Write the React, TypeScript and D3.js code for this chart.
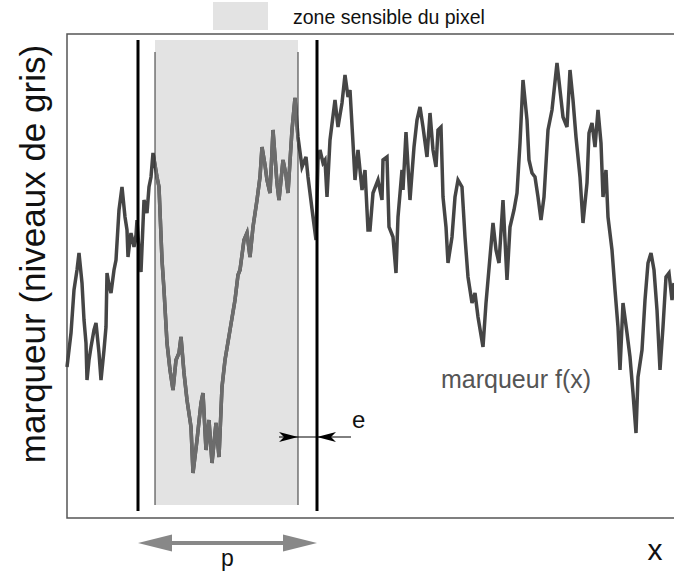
import * as d3 from 'd3';

// signal: position along x (0..607) and grey level (0..484)
const positions = [
  0, 2, 4, 7, 10, 12, 15, 17, 19, 20,
  22, 24, 27, 29, 32, 34, 37, 39, 40, 42,
  44, 47, 49, 52, 55, 58, 60, 61, 63, 64,
  67, 69, 70, 72, 74, 77, 80, 82, 84, 86,
  88, 90, 92, 95, 97, 100, 103, 106, 109, 112,
  114, 117, 120, 124, 126, 130, 134, 136, 139, 142,
  145, 149, 152, 155, 158, 163, 168, 171, 173, 177,
  180, 183, 186, 190, 193, 195, 198, 200, 203, 206,
  210, 212, 216, 219, 221, 225, 228, 231, 235, 239,
  241, 246, 249, 251, 253, 256, 258, 260, 263, 268,
  271, 275, 278, 281, 283, 286, 288, 291, 295, 298,
  301, 303, 306, 311, 315, 316, 320, 322, 326, 329,
  331, 335, 336, 339, 343, 347, 350, 353, 356, 360,
  363, 366, 369, 371, 374, 376, 379, 381, 385, 388,
  391, 395, 398, 401, 405, 408, 411, 416, 419, 423,
  426, 429, 432, 436, 440, 443, 447, 450, 453, 456,
  460, 462, 465, 468, 471, 474, 477, 481, 485, 490,
  493, 496, 500, 503, 506, 509, 513, 516, 520, 522,
  525, 528, 531, 534, 536, 539, 541, 545, 548, 551,
  553, 556, 560, 563, 566, 569, 571, 575, 578, 581,
  584, 587, 590, 593, 596, 599, 602, 605, 607,
];

const levels = [
  151, 168, 185, 228, 248, 265, 235, 198, 175, 138,
  158, 171, 188, 195, 165, 138, 168, 191, 245, 233,
  225, 248, 258, 308, 331, 301, 288, 261, 278, 285,
  271, 283, 298, 268, 246, 318, 305, 331, 341, 365,
  353, 341, 331, 258, 228, 175, 148, 128, 158, 165,
  181, 145, 118, 91, 45, 78, 115, 125, 68, 98,
  55, 95, 61, 131, 158, 188, 218, 243, 248, 278,
  285, 261, 291, 318, 341, 371, 353, 338, 325, 388,
  335, 318, 358, 343, 325, 388, 420, 381, 351, 361,
  341, 301, 278, 358, 368, 355, 358, 321, 378, 418,
  391, 415, 443, 421, 428, 375, 338, 368, 328, 348,
  288, 288, 325, 338, 318, 358, 361, 291, 281, 245,
  301, 348, 328, 386, 318, 371, 398, 411, 391, 361,
  405, 368, 351, 388, 391, 321, 291, 255, 281, 321,
  338, 331, 281, 241, 215, 225, 201, 171, 215, 261,
  295, 268, 255, 318, 238, 291, 308, 325, 375, 438,
  398, 358, 345, 341, 321, 298, 321, 388, 408, 455,
  428, 401, 391, 448, 418, 381, 341, 295, 335, 385,
  395, 371, 408, 375, 321, 348, 301, 268, 228, 191,
  148, 215, 185, 161, 125, 85, 141, 168, 218, 255,
  265, 248, 208, 148, 191, 241, 245, 218, 235,
];

// annotation positions (same units)
const pixelBounds = [71, 250]; // thick black lines, width p
const zoneBounds = [88, 231]; // sensitive zone
const lineLevels = [7, 478];
const zoneLevels = [13, 478];
const thinLevels = [13, 466];

const FONT = 'Liberation Sans, Arial, Helvetica, sans-serif';

export default function App() {
  const width = 674;
  const height = 579;
  const frame = { left: 67, right: 674, top: 34, bottom: 518 };

  const x = d3.scaleLinear().domain([0, 607]).range([frame.left, frame.right]);
  const y = d3.scaleLinear().domain([0, 484]).range([frame.bottom, frame.top]);

  const data = positions.map((p, i) => [p, levels[i]] as [number, number]);
  const line = d3.line<[number, number]>().x((d) => x(d[0])).y((d) => y(d[1]));
  const path = line(data) ?? '';

  const [z0, z1] = zoneBounds.map(x);
  const [p0, p1] = pixelBounds.map(x);

  // e arrows
  const ey = 437;
  const eLeft = `M${z1},${ey} L${z1 - 19},${ey - 5} L${z1 - 14},${ey} L${z1 - 19},${ey + 5} Z`;
  const eRight = `M${p1},${ey} L${p1 + 19},${ey - 5} L${p1 + 14},${ey} L${p1 + 19},${ey + 5} Z`;

  // p double arrow
  const py = 543;
  const hl = 34;
  const hh = 8.5;
  const st = 2;
  const pArrow = [
    [p0, py], [p0 + hl, py - hh], [p0 + hl, py - st], [p1 - hl, py - st], [p1 - hl, py - hh],
    [p1, py], [p1 - hl, py + hh], [p1 - hl, py + st], [p0 + hl, py + st], [p0 + hl, py + hh],
  ].map((d) => d.join(',')).join(' ');

  return (
    <svg
      width={width}
      height={height}
      style={{ position: 'absolute', left: 0, top: 0, background: '#fff' }}
      fontFamily={FONT}
    >
      <defs>
        <clipPath id="zone">
          <rect x={z0} y={0} width={z1 - z0} height={height} />
        </clipPath>
      </defs>

      {/* legend */}
      <rect x={213} y={2} width={55} height={28} fill="#e3e3e3" />
      <text x={293} y={24} fontSize={19.5} fill="#111">zone sensible du pixel</text>

      {/* frame */}
      <path
        d={`M${frame.right},${frame.top} H${frame.left} V${frame.bottom} H${frame.right}`}
        fill="none"
        stroke="#555"
        strokeWidth={1.5}
      />

      {/* sensitive zone */}
      <rect x={z0} y={y(zoneLevels[1])} width={z1 - z0} height={y(zoneLevels[0]) - y(zoneLevels[1])} fill="#e3e3e3" />

      {/* signal */}
      <path d={path} fill="none" stroke="#454545" strokeWidth={3.5} />
      <path d={path} fill="none" stroke="#6c6c6c" strokeWidth={3.5} clipPath="url(#zone)" />

      {/* thin zone limits */}
      {zoneBounds.map((b) => (
        <line key={b} x1={x(b)} x2={x(b)} y1={y(thinLevels[1])} y2={y(thinLevels[0])} stroke="#333" strokeWidth={1} />
      ))}

      {/* thick pixel limits */}
      {pixelBounds.map((b) => (
        <line key={b} x1={x(b)} x2={x(b)} y1={y(lineLevels[1])} y2={y(lineLevels[0])} stroke="#000" strokeWidth={3} />
      ))}

      {/* e */}
      <line x1={z1 - 19} x2={p1 + 34} y1={ey} y2={ey} stroke="#000" strokeWidth={1} />
      <path d={eLeft} fill="#000" />
      <path d={eRight} fill="#000" />
      <text x={352} y={428} fontSize={24} fill="#111">e</text>

      <text x={441} y={388} fontSize={25} fill="#555">marqueur f(x)</text>

      {/* p */}
      <polygon points={pArrow} fill="#888" />
      <text x={(p0 + p1) / 2} y={566} fontSize={23} fill="#111" textAnchor="middle">p</text>

      <text x={655} y={560} fontSize={30} fill="#111" textAnchor="middle">x</text>

      <text
        transform={`translate(45,${(frame.top + frame.bottom) / 2 - 22}) rotate(-90)`}
        fontSize={35}
        fill="#111"
        textAnchor="middle"
      >
        marqueur (niveaux de gris)
      </text>
    </svg>
  );
}
